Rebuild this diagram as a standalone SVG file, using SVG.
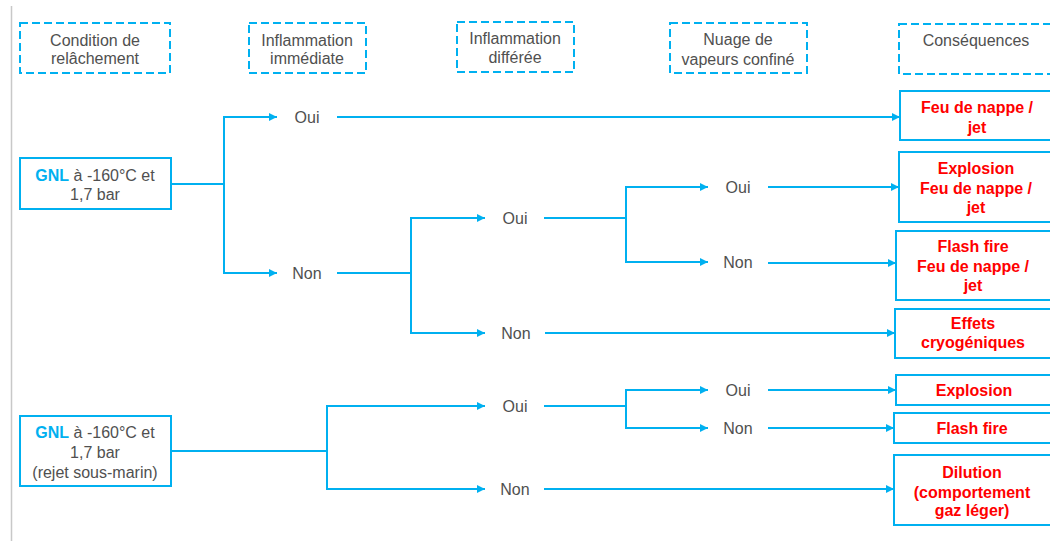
<svg xmlns="http://www.w3.org/2000/svg" width="1050" height="541" viewBox="0 0 1050 541">
<defs>
<style>
.hdr{fill:#fff;stroke:#00b0f0;stroke-width:2;stroke-dasharray:8 4}
.box{fill:#fff;stroke:#00b0f0;stroke-width:2}
.t{font-family:"Liberation Sans",Arial,sans-serif;font-size:16px;fill:#505050;text-anchor:middle}
.r{font-family:"Liberation Sans",Arial,sans-serif;font-size:16px;font-weight:bold;fill:#ff0000;text-anchor:middle}
.b{font-weight:bold;fill:#00b0f0}
.ln{fill:none;stroke:#00b0f0;stroke-width:2}
.ar{fill:none;stroke:#00b0f0;stroke-width:2;marker-end:url(#ah)}
</style>
<marker id="ah" viewBox="0 0 8 8" refX="8" refY="4" markerWidth="8" markerHeight="8" markerUnits="userSpaceOnUse" orient="auto">
<path d="M0,0 L8,4 L0,8 z" fill="#00b0f0"/>
</marker>
</defs>
<rect width="1050" height="541" fill="#fff"/>
<line x1="11.5" y1="6" x2="11.5" y2="541" stroke="#c8c8c8" stroke-width="1.5"/>

<g id="h1"><rect class="hdr" x="20" y="23" width="150" height="50"/><text class="t" x="95" y="45.5">Condition de</text><text class="t" x="95" y="63.5">relâchement</text></g>
<g id="h2"><rect class="hdr" x="249" y="23" width="117" height="50"/><text class="t" x="307" y="45.5">Inflammation</text><text class="t" x="307" y="63.5">immédiate</text></g>
<g id="h3"><rect class="hdr" x="457" y="22" width="117" height="50"/><text class="t" x="515" y="43.5">Inflammation</text><text class="t" x="515" y="63">différée</text></g>
<g id="h4"><rect class="hdr" x="670" y="23" width="137" height="50"/><text class="t" x="738" y="44.5">Nuage de</text><text class="t" x="738" y="64.5">vapeurs confiné</text></g>
<g id="h5"><rect class="hdr" x="899" y="24" width="155" height="50"/><text class="t" x="976" y="45.5">Conséquences</text></g>

<g id="src1"><rect class="box" x="20" y="158" width="151" height="51"/><text class="t" x="95" y="180.5"><tspan class="b">GNL</tspan> à -160°C et</text><text class="t" x="95" y="199.5">1,7 bar</text></g>
<g id="src2"><rect class="box" x="20" y="416" width="151" height="70"/><text class="t" x="95" y="437.5"><tspan class="b">GNL</tspan> à -160°C et</text><text class="t" x="95" y="457.5">1,7 bar</text><text class="t" x="95" y="477.5">(rejet sous-marin)</text></g>

<g id="labels">
<text class="t" x="307" y="122.5">Oui</text>
<text class="t" x="307" y="278.5">Non</text>
<text class="t" x="515" y="223.5">Oui</text>
<text class="t" x="516" y="338.5">Non</text>
<text class="t" x="738" y="192.5">Oui</text>
<text class="t" x="738" y="267.5">Non</text>
<text class="t" x="515" y="411.5">Oui</text>
<text class="t" x="515" y="494.5">Non</text>
<text class="t" x="738" y="395.5">Oui</text>
<text class="t" x="738" y="433.5">Non</text>
</g>

<g id="c1"><rect class="box" x="900" y="91" width="154" height="49"/><text class="r" x="977" y="112.5">Feu de nappe /</text><text class="r" x="977" y="132.5">jet</text></g>
<g id="c2"><rect class="box" x="899" y="152" width="155" height="70"/><text class="r" x="976" y="173.5">Explosion</text><text class="r" x="976" y="193.5">Feu de nappe /</text><text class="r" x="976" y="212.5">jet</text></g>
<g id="c3"><rect class="box" x="896" y="231" width="158" height="69"/><text class="r" x="973" y="251.5">Flash fire</text><text class="r" x="973" y="271.5">Feu de nappe /</text><text class="r" x="973" y="290.5">jet</text></g>
<g id="c4"><rect class="box" x="895" y="309" width="159" height="49"/><text class="r" x="973" y="328.5">Effets</text><text class="r" x="973" y="347.5">cryogéniques</text></g>
<g id="c5"><rect class="box" x="896" y="375" width="158" height="30"/><text class="r" x="974" y="395.5">Explosion</text></g>
<g id="c6"><rect class="box" x="894" y="413" width="160" height="30"/><text class="r" x="972" y="433.5">Flash fire</text></g>
<g id="c7"><rect class="box" x="894" y="455" width="160" height="70"/><text class="r" x="972" y="477.5">Dilution</text><text class="r" x="972" y="497.5">(comportement</text><text class="r" x="972" y="516">gaz léger)</text></g>

<g id="connectors">
<path class="ln" d="M171,184 H224"/>
<path class="ar" d="M224,117 H277"/>
<path class="ar" d="M224,273 H277"/>
<path class="ln" d="M224,116 V274"/>
<path class="ar" d="M337,117 H900"/>
<path class="ln" d="M337,273 H411"/>
<path class="ln" d="M411,217 V334"/>
<path class="ar" d="M411,218 H485"/>
<path class="ar" d="M411,333 H485"/>
<path class="ln" d="M544,218 H626"/>
<path class="ln" d="M626,186 V263"/>
<path class="ar" d="M626,187 H708"/>
<path class="ar" d="M626,262 H708"/>
<path class="ar" d="M768,187 H899"/>
<path class="ar" d="M768,263 H896"/>
<path class="ar" d="M545,333 H895"/>
<path class="ln" d="M171,451 H327"/>
<path class="ln" d="M327,405 V490"/>
<path class="ar" d="M327,406 H485"/>
<path class="ar" d="M327,489 H485"/>
<path class="ln" d="M544,406 H626"/>
<path class="ln" d="M626,389 V429"/>
<path class="ar" d="M626,390 H708"/>
<path class="ar" d="M626,428 H708"/>
<path class="ar" d="M768,390 H896"/>
<path class="ar" d="M768,428 H894"/>
<path class="ar" d="M544,489 H894"/>
</g>
</svg>
